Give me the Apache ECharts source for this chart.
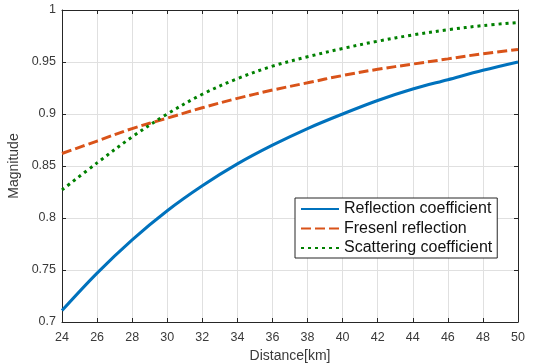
<!DOCTYPE html>
<html>
<head>
<meta charset="utf-8">
<script src="https://cdn.jsdelivr.net/npm/echarts@6/dist/echarts.min.js"></script>
<style>
  html, body { margin: 0; padding: 0; background: #fff; }
  #chart { width: 534px; height: 364px; }
</style>
</head>
<body>
<div id="chart"></div>
<script>
// Distance samples (km)
const distanceKm = [24, 26, 28, 30, 32, 34, 36, 38, 40, 42, 44, 46, 48, 50];

// Magnitude of each coefficient at those distances
const reflectionCoefficient = [0.711, 0.747, 0.779, 0.807, 0.831, 0.852, 0.870, 0.886, 0.900, 0.913, 0.924, 0.933, 0.942, 0.950];
const fresenlReflection     = [0.862, 0.874, 0.886, 0.896, 0.906, 0.915, 0.923, 0.930, 0.937, 0.943, 0.948, 0.953, 0.958, 0.962];
const scatteringCoefficient = [0.827, 0.853, 0.878, 0.900, 0.919, 0.934, 0.946, 0.955, 0.963, 0.970, 0.976, 0.981, 0.985, 0.988];

const seriesNames = ['Reflection coefficient', 'Fresenl reflection', 'Scattering coefficient'];

const pairs = (ys) => distanceKm.map((x, i) => [x, ys[i]]);

const FONT = '"Liberation Sans", Arial, sans-serif';
const AXIS_COLOR = '#262626';
const TEXT_COLOR = '#3a3a3a';
const GRID_COLOR = '#e0e0e0';

const chart = echarts.init(document.getElementById('chart'), null, { renderer: 'canvas' });

const frameAxis = {
  axisLine: { show: true, lineStyle: { color: AXIS_COLOR, width: 1 } },
  axisTick: { show: true, inside: true, length: 4, lineStyle: { color: AXIS_COLOR } },
  axisLabel: { show: false },
  splitLine: { show: false }
};

chart.setOption({
  animation: false,
  backgroundColor: '#ffffff',
  textStyle: { fontFamily: FONT },
  grid: { left: 62, right: 16, top: 10, bottom: 42, containLabel: false, outerBoundsMode: 'none' },
  xAxis: [
    {
      type: 'value', position: 'bottom', min: 24, max: 50, interval: 2,
      name: 'Distance[km]', nameLocation: 'middle', nameGap: 25,
      nameTextStyle: { fontFamily: FONT, fontSize: 14, color: TEXT_COLOR },
      axisLine: { show: true, onZero: false, lineStyle: { color: AXIS_COLOR, width: 1 } },
      axisTick: { show: true, inside: true, length: 4, lineStyle: { color: AXIS_COLOR } },
      axisLabel: { fontFamily: FONT, fontSize: 12.5, color: TEXT_COLOR, margin: 9 },
      splitLine: { show: true, lineStyle: { color: GRID_COLOR, width: 1 } }
    },
    Object.assign({ type: 'value', position: 'top', min: 24, max: 50, interval: 2 }, frameAxis)
  ],
  yAxis: [
    {
      type: 'value', position: 'left', min: 0.7, max: 1, interval: 0.05,
      name: 'Magnitude', nameLocation: 'middle', nameGap: 30, nameRotate: 90,
      nameTextStyle: { fontFamily: FONT, fontSize: 14, color: TEXT_COLOR },
      axisLine: { show: true, onZero: false, lineStyle: { color: AXIS_COLOR, width: 1 } },
      axisTick: { show: true, inside: true, length: 4, lineStyle: { color: AXIS_COLOR } },
      axisLabel: {
        fontFamily: FONT, fontSize: 12.5, color: TEXT_COLOR, margin: 6,
        formatter: (v) => String(parseFloat(v.toFixed(2)))
      },
      splitLine: { show: true, lineStyle: { color: GRID_COLOR, width: 1 } }
    },
    Object.assign({ type: 'value', position: 'right', min: 0.7, max: 1, interval: 0.05 }, frameAxis)
  ],
  legend: {
    orient: 'vertical',
    left: 295, top: 198,
    padding: [3, 5, 2, 5],
    itemWidth: 38, itemHeight: 16, itemGap: 3.5,
    backgroundColor: '#ffffff',
    borderColor: AXIS_COLOR, borderWidth: 1,
    itemStyle: { opacity: 0 },
    textStyle: { fontFamily: FONT, fontSize: 16, color: '#111111', lineHeight: 16 },
    data: seriesNames
  },
  series: [
    {
      name: seriesNames[0], type: 'line', data: pairs(reflectionCoefficient),
      smooth: 0.35, symbol: 'none',
      lineStyle: { color: '#0072BD', width: 3, type: 'solid' },
      itemStyle: { color: '#0072BD' }
    },
    {
      name: seriesNames[1], type: 'line', data: pairs(fresenlReflection),
      smooth: 0.35, symbol: 'none',
      lineStyle: { color: '#D95319', width: 3, type: [10, 4], cap: 'butt' },
      itemStyle: { color: '#D95319' }
    },
    {
      name: seriesNames[2], type: 'line', data: pairs(scatteringCoefficient),
      smooth: 0.35, symbol: 'none',
      lineStyle: { color: '#008000', width: 3, type: [3, 4], cap: 'butt' },
      itemStyle: { color: '#008000' }
    }
  ]
});
</script>
</body>
</html>
